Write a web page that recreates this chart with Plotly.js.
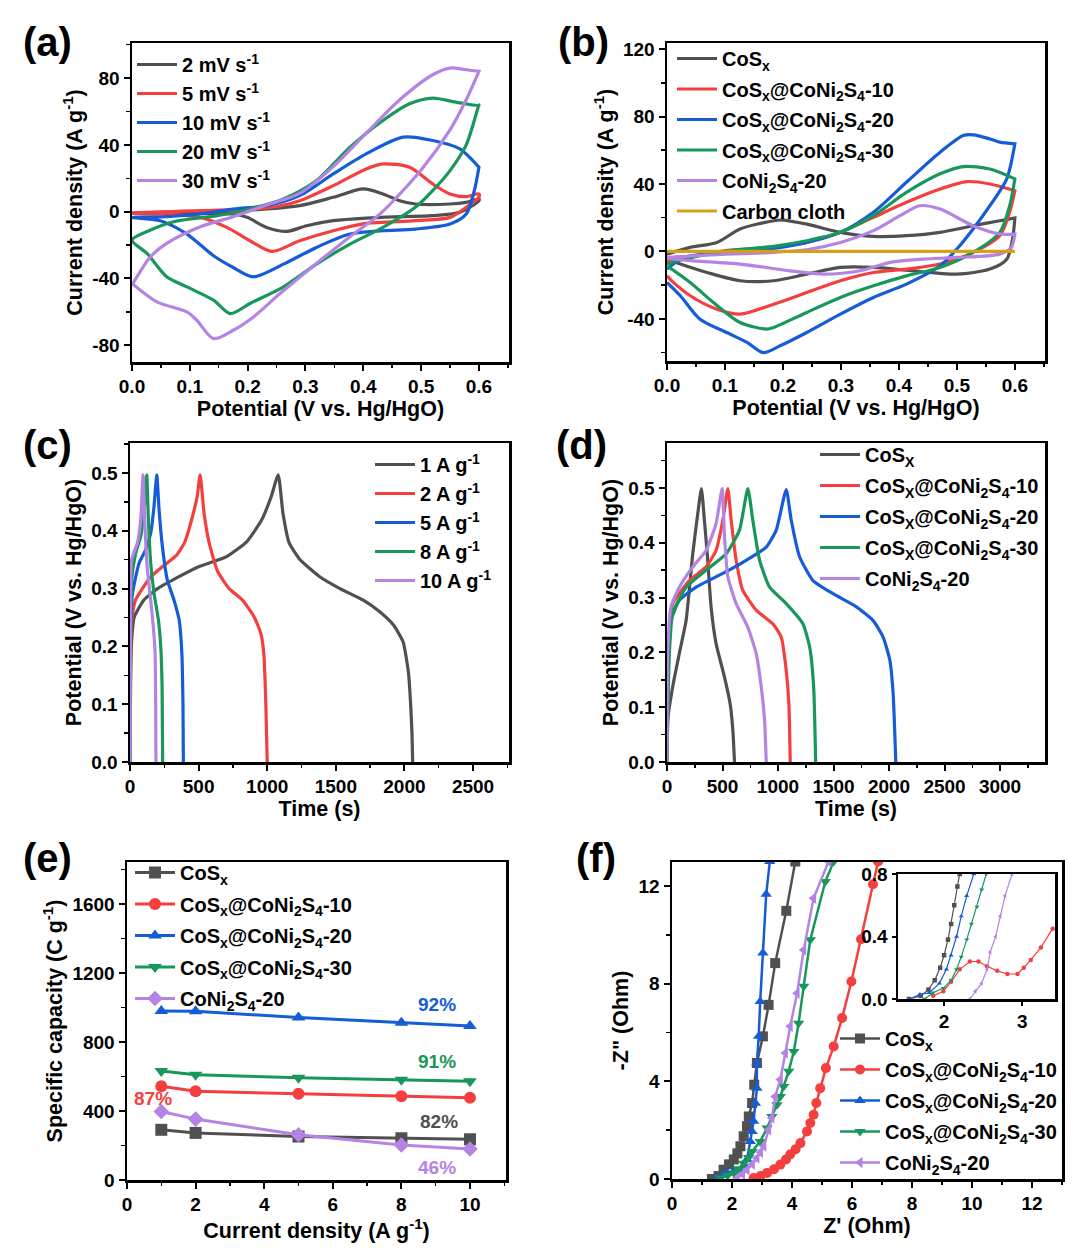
<!DOCTYPE html>
<html><head><meta charset="utf-8">
<script src="https://cdn.plot.ly/plotly-3.0.1.min.js"></script>
<style>html,body{margin:0;padding:0;background:#fff}#chart{width:1080px;height:1260px}</style>
</head><body><div id="chart"></div>
<script>
// ---------- colours ----------
const C_GRAY = '#505050', C_RED = '#F43F3F', C_BLUE = '#165CD6', C_GREEN = '#17975A', C_PURPLE = '#B483E4', C_GOLD = '#D4A017';

// ---------- (a) CV at different scan rates (closed loops: forward then reverse) ----------
const aLabels = ['2 mV s<sup>-1</sup>', '5 mV s<sup>-1</sup>', '10 mV s<sup>-1</sup>', '20 mV s<sup>-1</sup>', '30 mV s<sup>-1</sup>'];
const a2_V = [0,0.175,0.233,0.29,0.348,0.4,0.434,0.463,0.49,0.55,0.578,0.6, 0.6,0.567,0.52,0.463,0.405,0.348,0.302,0.268,0.233,0.199,0.175,0];
const a2_I = [-0.8,0.6,1.6,3.6,8.6,13.6,10.6,6.6,4.6,4.6,5.6,7.6, 6.6,-0.4,-2.4,-3,-3.8,-5.4,-8.4,-11.8,-9.4,-3.4,-1.4,-0.8];
const a5_V = [0,0.118,0.233,0.29,0.348,0.405,0.434,0.48,0.52,0.55,0.578,0.6, 0.6,0.578,0.55,0.49,0.405,0.348,0.29,0.242,0.204,0.164,0.118,0.06,0];
const a5_I = [-0.8,0.6,2.2,6.6,15.6,25.6,28.6,26.6,16.6,10.6,9,10.6, 8.6,2.6,-3.4,-5.4,-7,-11.4,-17.4,-23.8,-17.4,-9.4,-3.4,-1.4,-0.8];
const a10_V = [0,0.06,0.118,0.175,0.233,0.29,0.348,0.405,0.469,0.52,0.567,0.6, 0.6,0.592,0.578,0.55,0.49,0.434,0.377,0.319,0.262,0.21,0.175,0.141,0.095,0.049,0];
const a10_I = [-3.4,-3,-1.4,1.6,3.6,9.6,22.6,34.6,44.6,42.6,37.6,26.6, 26.6,12.6,-1.4,-7.4,-10.4,-11.4,-13.4,-21.4,-31.4,-39,-33.4,-26.4,-13.4,-5.4,-3.4];
const a20_V = [0,0.032,0.072,0.147,0.204,0.262,0.319,0.377,0.434,0.48,0.52,0.56,0.6, 0.6,0.578,0.55,0.52,0.49,0.434,0.377,0.319,0.262,0.204,0.17,0.141,0.095,0.06,0.026,0];
const a20_I = [-17,-11,-6,-2.4,1.6,7.6,18.6,38.6,54.6,64.6,68,65.6,63.6, 64,40,24.6,12.6,2.6,-9.4,-19.4,-31.4,-45,-55,-61,-53,-45,-39,-25,-17];
const a30_V = [0,0.032,0.06,0.118,0.175,0.233,0.29,0.348,0.405,0.463,0.52,0.55,0.578,0.6, 0.6,0.578,0.55,0.5,0.43,0.377,0.319,0.256,0.21,0.175,0.141,0.112,0.095,0.043,0];
const a30_I = [-44,-27,-19,-9,-3,4,11,27,47,67,82,86,85,84, 84,67,49,25,-1,-15,-31,-49,-63,-71,-76,-65,-60,-54,-43];

// ---------- (b) CV of the different electrodes ----------
const bLabels = ['CoS<sub>x</sub>', 'CoS<sub>x</sub>@CoNi<sub>2</sub>S<sub>4</sub>-10', 'CoS<sub>x</sub>@CoNi<sub>2</sub>S<sub>4</sub>-20', 'CoS<sub>x</sub>@CoNi<sub>2</sub>S<sub>4</sub>-30', 'CoNi<sub>2</sub>S<sub>4</sub>-20', 'Carbon cloth'];
const bCoS_V = [0,0.04,0.086,0.126,0.184,0.2,0.241,0.299,0.356,0.413,0.471,0.528,0.574,0.6, 0.6,0.596,0.586,0.557,0.5,0.442,0.356,0.299,0.241,0.184,0.126,0.069,0.023,0];
const bCoS_I = [-1.6,2.4,5.3,13.3,18.2,18.6,16.2,11.3,8.9,9.3,11.3,15.2,18.2,19.8, 19.8,7.3,-4.6,-10.5,-13.5,-12.1,-9.5,-9.5,-13.5,-17.4,-17.4,-12.5,-7.5,-4.6];
const b10_V = [0,0.04,0.098,0.184,0.241,0.299,0.356,0.413,0.471,0.517,0.557,0.6, 0.6,0.591,0.574,0.528,0.471,0.413,0.356,0.299,0.241,0.184,0.126,0.086,0.04,0.011,0];
const b10_I = [-6.5,-3.6,0.4,2.4,5.3,11.3,20.2,29.1,37,41.4,40,36, 36,23.2,9.3,-0.6,-7.5,-10.5,-12.5,-17.4,-24.4,-31.3,-37.2,-34.3,-26.3,-18.4,-14.5];
const b20_V = [0,0.029,0.098,0.184,0.241,0.299,0.356,0.413,0.471,0.511,0.528,0.557,0.574,0.6, 0.6,0.586,0.557,0.528,0.5,0.471,0.413,0.356,0.299,0.241,0.195,0.166,0.138,0.103,0.057,0.023,0];
const b20_I = [-10.5,-3.6,-0.6,1.8,5.3,11.3,23.2,41,58.8,68.7,69.1,66.7,64.8,63.8, 63.8,43,27.1,13.3,1.4,-8.5,-19.4,-27.3,-37.2,-48.1,-56,-60,-54,-48.1,-40.2,-26.3,-18.4];
const b30_V = [0,0.029,0.098,0.184,0.241,0.299,0.356,0.413,0.471,0.511,0.557,0.6, 0.6,0.591,0.574,0.528,0.471,0.413,0.356,0.299,0.241,0.184,0.172,0.126,0.08,0.04,0];
const b30_I = [-7.5,-4.6,0,3,6.3,11.3,21.2,35,46,50.3,48.9,43, 43,27,11.3,-0.6,-9.5,-14.5,-20.4,-27.3,-36.2,-45.1,-46.1,-42.2,-30.3,-18.4,-8.5];
const bNi_V = [0,0.069,0.184,0.241,0.299,0.356,0.402,0.436,0.471,0.528,0.574,0.6, 0.6,0.594,0.574,0.5,0.442,0.385,0.333,0.27,0.212,0.126,0.04,0];
const bNi_I = [-3.6,-2.2,-0.6,1,5.3,12.3,21.2,27.1,25.1,15.2,10.3,10.3, 10.3,2.4,-1.6,-3.6,-4.6,-6.5,-11.5,-13.5,-11.5,-7.5,-5.5,-4.2];
const bCC_V = [0,0.1,0.2,0.3,0.4,0.5,0.6];
const bCC_I = [0,0,0,0,0,0,0];

// ---------- (c) GCD of CoSx@CoNi2S4-20 at different current densities ----------
const cLabels = ['1 A g<sup>-1</sup>', '2 A g<sup>-1</sup>', '5 A g<sup>-1</sup>', '8 A g<sup>-1</sup>', '10 A g<sup>-1</sup>'];
const c1_t = [0,10,30,100,200,350,500,700,850,960,1030,1080,1115,1160,1240,1380,1530,1700,1820,1920,1990,2030,2045,2055,2060];
const c1_V = [0,0.2,0.25,0.28,0.3,0.32,0.338,0.355,0.381,0.419,0.46,0.497,0.43,0.379,0.35,0.321,0.3,0.28,0.26,0.237,0.208,0.153,0.101,0.05,0];
const c2_t = [0,5,15,40,90,150,236,340,400,450,490,511,540,577,638,723,820,905,954,975,990,1000];
const c2_V = [0,0.2,0.25,0.28,0.3,0.32,0.338,0.358,0.381,0.42,0.46,0.497,0.43,0.379,0.33,0.3,0.28,0.251,0.222,0.188,0.1,0];
const c5_t = [0,3,17,66,114,151,175,195,212,236,272,321,358,378,386,389];
const c5_V = [0,0.2,0.29,0.344,0.367,0.396,0.442,0.497,0.436,0.373,0.315,0.28,0.246,0.188,0.1,0];
const c8_t = [0,3,12,41,78,107,122,134,151,175,207,224,234,238];
const c8_V = [0,0.2,0.315,0.361,0.39,0.448,0.497,0.419,0.344,0.292,0.246,0.2,0.13,0];
const c10_t = [0,3,12,54,78,95,107,127,151,170,183,187,189];
const c10_V = [0,0.2,0.35,0.379,0.419,0.497,0.419,0.332,0.28,0.234,0.188,0.1,0];

// ---------- (d) GCD of the different electrodes at 1 A/g ----------
const dLabels = ['CoS<sub>X</sub>', 'CoS<sub>X</sub>@CoNi<sub>2</sub>S<sub>4</sub>-10', 'CoS<sub>X</sub>@CoNi<sub>2</sub>S<sub>4</sub>-20', 'CoS<sub>X</sub>@CoNi<sub>2</sub>S<sub>4</sub>-30', 'CoNi<sub>2</sub>S<sub>4</sub>-20'];
const dCoS_t = [0,6,51,111,172,232,277,310,337,367,397,442,518,569,593,608];
const dCoS_V = [0,0.076,0.137,0.198,0.258,0.38,0.453,0.499,0.441,0.368,0.283,0.216,0.155,0.106,0.058,0];
const d10_t = [0,6,21,51,202,352,442,503,548,578,623,683,803,954,1029,1074,1098,1110];
const d10_V = [0,0.1,0.228,0.289,0.331,0.356,0.386,0.441,0.499,0.441,0.368,0.313,0.277,0.252,0.228,0.167,0.106,0];
const d20_t = [0,6,36,111,262,503,713,894,984,1074,1119,1195,1315,1496,1706,1857,1947,2007,2037,2061];
const d20_V = [0,0.137,0.258,0.295,0.319,0.344,0.368,0.392,0.423,0.497,0.441,0.374,0.331,0.307,0.283,0.258,0.228,0.186,0.125,0];
const d30_t = [0,8,21,51,172,352,533,653,728,773,834,924,1074,1225,1285,1321,1339];
const d30_V = [0,0.1,0.198,0.271,0.319,0.35,0.38,0.423,0.499,0.441,0.368,0.319,0.289,0.252,0.21,0.137,0];
const dNi_t = [0,6,36,111,232,352,442,497,518,548,623,728,803,849,879,894];
const dNi_V = [0,0.198,0.283,0.319,0.356,0.386,0.435,0.499,0.411,0.338,0.289,0.246,0.198,0.137,0.076,0];

// ---------- (e) rate capability ----------
const eCurrent = [1, 2, 5, 8, 10];
const eCoS = [291, 273, 252, 242, 236];
const e10 = [543, 514, 500, 486, 477];
const e20 = [980, 978, 942, 911, 893];
const e30 = [632, 610, 593, 581, 572];
const eNi = [397, 353, 262, 203, 180];
const eRetention = ['92%', '91%', '87%', '82%', '46%'];

// ---------- (f) Nyquist plots ----------
const fCoS_re = [1.33,1.55,1.72,1.9,2.06,2.18,2.28,2.39,2.5,2.56,2.67,2.74,2.83,3.03,3.22,3.44,3.81,4.11];
const fCoS_im = [0,0.12,0.38,0.6,0.8,1.05,1.34,1.75,2.16,2.56,3.11,3.86,4.75,5.84,7.13,8.84,10.98,13];
const f10_re = [2.72,2.95,3.17,3.4,3.61,3.8,3.94,4.12,4.28,4.5,4.61,4.72,4.81,4.94,5.13,5.39,5.67,5.98,6.3,6.7,6.87];
const f10_im = [0.04,0.12,0.25,0.4,0.59,0.8,1.0,1.22,1.47,1.95,2.29,2.63,3.11,3.72,4.54,5.43,6.59,8.09,9.82,12.07,13];
const f20_re = [1.5,1.7,1.83,2.05,2.28,2.42,2.5,2.61,2.67,2.72,2.78,2.83,2.83,2.89,2.94,3.03,3.14,3.26];
const f20_im = [0.04,0.15,0.25,0.3,0.38,0.55,0.8,1.54,1.95,2.36,3.1,3.72,4.75,5.84,7.27,9.25,11.66,13];
const f30_re = [1.61,1.85,2.06,2.22,2.39,2.55,2.67,2.94,3.17,3.33,3.5,3.61,3.72,3.89,4.06,4.22,4.39,4.61,5.11,5.39];
const f30_im = [0.04,0.14,0.25,0.42,0.65,0.88,1.13,1.54,2.09,2.56,3.04,3.38,3.79,4.41,5.22,6.38,7.89,9.8,12.18,13];
const fNi_re = [2.17,2.35,2.5,2.68,2.83,2.95,3.06,3.22,3.33,3.44,3.61,3.78,3.94,4.17,4.39,4.72,5.22];
const fNi_im = [0.04,0.2,0.38,0.6,0.86,1.1,1.34,2.02,2.5,3.38,4.07,5.16,6.25,7.61,9.38,11.5,13];
// inset (high-frequency region)
const iCoS_re = [1.55,1.7,1.8,1.88,1.95,2.0,2.05,2.09,2.13,2.17,2.2];
const iCoS_im = [0,0.02,0.06,0.12,0.2,0.28,0.38,0.48,0.6,0.72,0.8];
const i10_re = [1.86,1.99,2.09,2.2,2.33,2.44,2.55,2.68,2.81,2.94,3.02,3.11,3.24,3.39];
const i10_im = [0.02,0.05,0.11,0.19,0.24,0.24,0.21,0.18,0.16,0.16,0.2,0.25,0.33,0.45];
const i20_re = [1.56,1.69,1.81,1.94,2.03,2.09,2.16,2.22,2.29,2.38];
const i20_im = [0,0.03,0.04,0.1,0.19,0.28,0.4,0.53,0.66,0.8];
const i30_re = [1.75,1.86,1.99,2.09,2.16,2.22,2.29,2.35,2.42,2.48,2.54];
const i30_im = [0,0.04,0.07,0.12,0.19,0.27,0.38,0.48,0.59,0.7,0.8];
const iNi_re = [2.33,2.4,2.48,2.55,2.59,2.66,2.72,2.78,2.87];
const iNi_im = [0,0.05,0.1,0.19,0.3,0.4,0.53,0.66,0.8];

// ---------- helpers ----------
const FAM = '"Liberation Sans", Arial, sans-serif';
const W = 1080, H = 1260;
const px = v => v / W, py = v => 1 - v / H;
function line(x, y, name, color, xa, ya, lg, smooth) {
  return {x, y, name, type: 'scatter', mode: 'lines',
    line: {color, width: 3.2, shape: 'spline', smoothing: smooth},
    xaxis: xa, yaxis: ya, legend: lg, legendgroup: lg + name};
}
function axis(domain, range, dtick, minorDtick, anchor, title, extra) {
  return Object.assign({domain, range, dtick, tick0: 0, anchor, showline: true, mirror: true,
    linewidth: 2.5, linecolor: '#000', ticks: 'outside', ticklen: 6, tickwidth: 2, tickcolor: '#000',
    minor: {ticks: 'outside', ticklen: 3.5, tickwidth: 1.5, dtick: minorDtick, tick0: 0, tickcolor: '#000'},
    showgrid: false, zeroline: false, fixedrange: true,
    tickfont: {family: FAM, size: 19, color: '#000', weight: 'bold'},
    title: {text: title, font: {family: FAM, size: 21.5, color: '#000', weight: 'bold'}, standoff: 4}}, extra || {});
}

const traces = [];
const colors = [C_GRAY, C_RED, C_BLUE, C_GREEN, C_PURPLE, C_GOLD];
// (a)
[[a2_V,a2_I],[a5_V,a5_I],[a10_V,a10_I],[a20_V,a20_I],[a30_V,a30_I]].forEach((d, i) =>
  traces.push(line(d[0], d[1], aLabels[i], colors[i], 'x', 'y', 'legend', 0.8)));
// (b)
[[bCoS_V,bCoS_I],[b10_V,b10_I],[b20_V,b20_I],[b30_V,b30_I],[bNi_V,bNi_I],[bCC_V,bCC_I]].forEach((d, i) =>
  traces.push(line(d[0], d[1], bLabels[i], colors[i], 'x2', 'y2', 'legend2', 0.8)));
// (c)
[[c1_t,c1_V],[c2_t,c2_V],[c5_t,c5_V],[c8_t,c8_V],[c10_t,c10_V]].forEach((d, i) =>
  traces.push(line(d[0], d[1], cLabels[i], colors[i], 'x3', 'y3', 'legend3', 0.5)));
// (d)
[[dCoS_t,dCoS_V],[d10_t,d10_V],[d20_t,d20_V],[d30_t,d30_V],[dNi_t,dNi_V]].forEach((d, i) =>
  traces.push(line(d[0], d[1], dLabels[i], colors[i], 'x4', 'y4', 'legend4', 0.5)));
// (e)
const eSymbols = ['square', 'circle', 'triangle-up', 'triangle-down', 'diamond'];
[eCoS, e10, e20, e30, eNi].forEach((v, i) =>
  traces.push({x: eCurrent, y: v, name: bLabels[i], type: 'scatter', mode: 'lines+markers',
    line: {color: colors[i], width: 3}, marker: {symbol: eSymbols[i], size: 12, color: colors[i]},
    xaxis: 'x5', yaxis: 'y5', legend: 'legend5', legendgroup: 'e' + i}));
// (f)
const fSymbols = ['square', 'circle', 'triangle-up', 'triangle-down', 'triangle-left'];
[[fCoS_re,fCoS_im],[f10_re,f10_im],[f20_re,f20_im],[f30_re,f30_im],[fNi_re,fNi_im]].forEach((d, i) =>
  traces.push({x: d[0], y: d[1], name: bLabels[i], type: 'scatter', mode: 'lines+markers',
    line: {color: colors[i], width: 2.5}, marker: {symbol: fSymbols[i], size: 10, color: colors[i]},
    xaxis: 'x6', yaxis: 'y6', legend: 'legend6', legendgroup: 'f' + i}));
// inset
[[iCoS_re,iCoS_im],[i10_re,i10_im],[i20_re,i20_im],[i30_re,i30_im],[iNi_re,iNi_im]].forEach((d, i) =>
  traces.push({x: d[0], y: d[1], name: bLabels[i], type: 'scatter', mode: 'lines+markers', showlegend: false,
    line: {color: colors[i], width: 1.2}, marker: {symbol: fSymbols[i], size: 4.5, color: colors[i]},
    xaxis: 'x7', yaxis: 'y7'}));

function legendAt(x, y, gap) {
  return {x: px(x), y: py(y), xanchor: 'left', yanchor: 'top', bgcolor: 'rgba(0,0,0,0)', borderwidth: 0,
    traceorder: 'grouped', tracegroupgap: gap, itemwidth: 40,
    font: {family: FAM, size: 20, color: '#000', weight: 'bold'}};
}

const eColors = [C_BLUE, C_GREEN, C_RED, C_GRAY, C_PURPLE];
const eLabX = [9.05, 9.05, 0.75, 9.1, 9.05];
const eLabY = [1019, 684, 475, 341, 70];
const annotations = [];
const panelPos = [[47,42],[583,42],[47,445],[581,445],[47,858],[596,858]];
['(a)','(b)','(c)','(d)','(e)','(f)'].forEach((t, i) => {
  annotations.push({text: t, x: px(panelPos[i][0]), y: py(panelPos[i][1]), xref: 'paper', yref: 'paper',
    xanchor: 'center', yanchor: 'middle', showarrow: false,
    font: {family: FAM, size: 40, color: '#000', weight: 'bold'}});
});
eRetention.forEach((t, i) => annotations.push({text: t, x: eLabX[i], y: eLabY[i], xref: 'x5', yref: 'y5',
  xanchor: 'center', yanchor: 'middle', showarrow: false,
  font: {family: FAM, size: 19, color: eColors[i], weight: 'bold'}}));

const yTickA = [-80, -40, 0, 40, 80];
const yTickB = [-40, 0, 40, 80, 120];
const layout = {
  width: W, height: H, margin: {l: 0, r: 0, t: 0, b: 0}, paper_bgcolor: '#fff', plot_bgcolor: '#fff',
  font: {family: FAM, color: '#000', weight: 'bold'}, showlegend: true,
  xaxis: axis([px(132), px(509)], [0, 0.652], 0.1, 0.05, 'y', 'Potential (V vs. Hg/HgO)', {tickformat: '.1f'}),
  yaxis: axis([py(362), py(43)], [-90, 101], 40, 20, 'x', 'Current density (A g<sup>-1</sup>)', {tickmode: 'array', tickvals: yTickA, ticktext: yTickA.map(String)}),
  xaxis2: axis([px(667), px(1045)], [0, 0.652], 0.1, 0.05, 'y2', 'Potential (V vs. Hg/HgO)', {tickformat: '.1f'}),
  yaxis2: axis([py(361), py(43)], [-65, 123.6], 40, 20, 'x2', 'Current density (A g<sup>-1</sup>)', {tickmode: 'array', tickvals: yTickB, ticktext: yTickB.map(String)}),
  xaxis3: axis([px(130), px(509)], [0, 2762], 500, 250, 'y3', 'Time (s)'),
  yaxis3: axis([py(762), py(443)], [0, 0.552], 0.1, 0.05, 'x3', 'Potential (V vs. Hg/HgO)', {tickformat: '.1f'}),
  xaxis4: axis([px(667), px(1045)], [0, 3405], 500, 250, 'y4', 'Time (s)'),
  yaxis4: axis([py(762), py(443)], [0, 0.582], 0.1, 0.05, 'x4', 'Potential (V vs. Hg/HgO)', {tickformat: '.1f'}),
  xaxis5: axis([px(127), px(506)], [0, 11.05], 2, 1, 'y5', 'Current density (A g<sup>-1</sup>)'),
  yaxis5: axis([py(1180), py(862)], [0, 1843], 400, 200, 'x5', 'Specific capacity (C g<sup>-1</sup>)'),
  xaxis6: axis([px(672), px(1062)], [0, 13], 2, 1, 'y6', "Z' (Ohm)"),
  yaxis6: axis([py(1179), py(862)], [0, 12.98], 4, 2, 'x6', '-Z" (Ohm)'),
  xaxis7: axis([px(898), px(1055)], [1.41, 3.42], 1, 0.5, 'y7', '', {tickvals: [2, 3], tickmode: 'array', ticklen: 4, minor: {ticks: ''}}),
  yaxis7: axis([py(999), py(874)], [0, 0.8], 0.4, 0.2, 'x7', '', {tickmode: 'array', tickvals: [0, 0.4, 0.8], ticktext: ['0.0', '0.4', '0.8'], ticklen: 4, minor: {ticks: ''}}),
  legend: legendAt(132, 45, 0),
  legend2: legendAt(672, 39, 1.5),
  legend3: legendAt(370, 445, 0),
  legend4: legendAt(815, 435, 2),
  legend5: legendAt(130, 853, 2.5),
  legend6: legendAt(835, 1019, 2),
  annotations
};
Plotly.newPlot('chart', traces, layout, {displayModeBar: false, staticPlot: true});
</script></body></html>
